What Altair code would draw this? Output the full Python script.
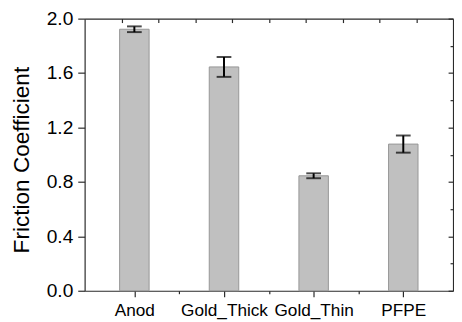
import altair as alt
import pandas as pd

# ---- data ----
categories = ["Anod", "Gold_Thick", "Gold_Thin", "PFPE"]
positions = [1, 2, 3, 4]
friction = [1.922, 1.645, 0.845, 1.078]
errors = [0.021, 0.073, 0.018, 0.063]

y_ticks = [0.0, 0.2, 0.4, 0.6, 0.8, 1.0, 1.2, 1.4, 1.6, 1.8, 2.0]
x_ticks = [1, 1.5, 2, 2.5, 3, 3.5, 4]
top_ticks = [1, 2, 3, 4, 5, 6, 7, 8, 9]

df = pd.DataFrame({"pos": positions, "cat": categories, "mean": friction, "err": errors})
df["lo"] = df["mean"] - df["err"]
df["hi"] = df["mean"] + df["err"]

W, H = 375, 277
FONT = "Liberation Sans"
FRAME = "#2a2a2a"

x_scale = alt.Scale(domain=[0.5, 4.5], nice=False, zero=False)
y_scale = alt.Scale(domain=[0, 2], nice=False)

cat_list = "[" + ",".join("'" + c + "'" for c in categories) + "]"
x_label_expr = "datum.value % 1 == 0 ? " + cat_list + "[datum.value - 1] : ''"
y_major_test = "round(datum.value * 10) % 4 == 0"

x_axis = alt.Axis(
    values=x_ticks, labelExpr=x_label_expr, title=None, grid=False,
    tickSize={"condition": {"test": "datum.value % 1 == 0", "value": 6}, "value": 3},
    labelFont=FONT, labelFontSize=17.5, labelColor="#000", labelPadding=5,
    domainColor=FRAME, tickColor=FRAME, labelFlush=False, labelOverlap=False,
)
y_axis = alt.Axis(
    values=y_ticks, title="Friction Coefficient", grid=False,
    labelExpr=y_major_test + " ? format(datum.value, '.1f') : ''",
    tickSize={"condition": {"test": y_major_test, "value": 7}, "value": 4},
    labelFont=FONT, labelFontSize=19.5, labelColor="#000", labelPadding=5,
    titleFont=FONT, titleFontSize=23, titleFontWeight="normal", titleColor="#000",
    titlePadding=13, titleY=H / 2 + 5, domainColor=FRAME, tickColor=FRAME,
    labelOverlap=False,
)

base = alt.Chart(df)
bars = base.mark_bar(size=30, fill="#c0c0c0", stroke="#969696", strokeWidth=1).encode(
    x=alt.X("pos:Q", scale=x_scale, axis=x_axis),
    y=alt.Y("mean:Q", scale=y_scale, axis=y_axis),
)
err_line = base.mark_rule(color="#000", strokeWidth=2).encode(
    x=alt.X("pos:Q", scale=x_scale), y=alt.Y("lo:Q", scale=y_scale), y2="hi:Q"
)
cap_lo = base.mark_tick(orient="horizontal", size=15, thickness=2, color="#000").encode(
    x=alt.X("pos:Q", scale=x_scale), y=alt.Y("lo:Q", scale=y_scale)
)
cap_hi = base.mark_tick(orient="horizontal", size=15, thickness=2, color="#000").encode(
    x=alt.X("pos:Q", scale=x_scale), y=alt.Y("hi:Q", scale=y_scale)
)

main = alt.layer(bars, err_line, cap_lo, cap_hi)

# frame: top axis (ticks pointing in) and right axis (ticks pointing in)
frame = alt.Chart(pd.DataFrame({"fx": [0], "fy": [0]})).mark_point(opacity=0).encode(
    x=alt.X("fx:Q", scale=alt.Scale(domain=[0, 10], nice=False),
            axis=alt.Axis(orient="bottom", offset=-H, values=top_ticks, labels=False,
                          title=None, grid=False, tickSize=4,
                          domainColor=FRAME, tickColor=FRAME)),
    y=alt.Y("fy:Q", scale=alt.Scale(domain=[0, 2], nice=False),
            axis=alt.Axis(orient="left", offset=-W, values=y_ticks, labels=False,
                          title=None, grid=False,
                          tickSize={"condition": {"test": y_major_test, "value": 5}, "value": 3},
                          domainColor=FRAME, tickColor=FRAME)),
)

chart = alt.layer(main, frame).resolve_scale(x="independent", y="independent").properties(
    width=W, height=H,
    autosize=alt.AutoSizeParams(type="none"),
    padding={"left": 78, "top": 8, "right": 1, "bottom": 30},
).configure_view(stroke=None).configure_axis(domainWidth=1.2, tickWidth=1.2)

chart.save("out.html", embed_options={"renderer": "svg", "actions": False})
